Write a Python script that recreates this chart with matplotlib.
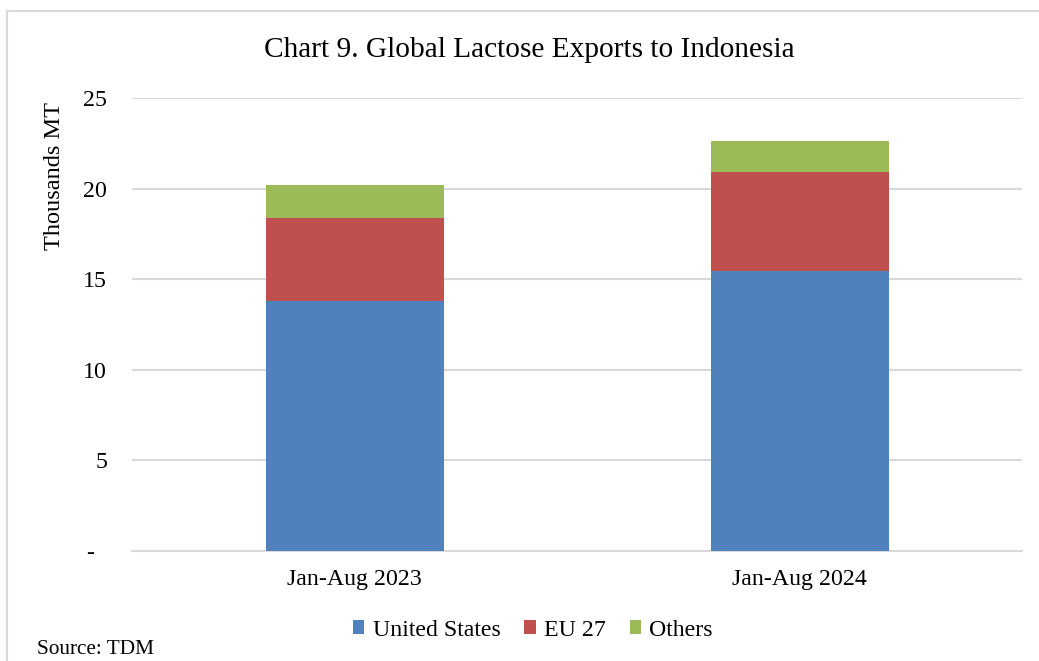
import matplotlib.pyplot as plt
from matplotlib.patches import Rectangle
import numpy as np

# Data (thousands MT)
periods = ["Jan-Aug 2023", "Jan-Aug 2024"]
united_states = [13.8, 15.45]
eu_27 = [4.58, 5.47]
others = [1.82, 1.71]

colors = ["#4F81BD", "#C0504D", "#9BBB59"]
labels = ["United States", "EU 27", "Others"]

plt.rcParams['font.family'] = ['Liberation Serif', 'DejaVu Serif']

fig = plt.figure(figsize=(10.39, 6.61), dpi=100)
ax = fig.add_axes([132/1039, 1 - 551/661, (1022-132)/1039, (551-98)/661])

# chart frame
fig.patches.append(Rectangle((7/1039, -0.05), 1.2, 1 - 11/661 + 0.05,
                             transform=fig.transFigure, fill=False,
                             edgecolor="#d9d9d9", linewidth=1.5))

x = np.arange(len(periods))
width = 0.40
bottom = np.zeros(len(periods))
for vals, c, lab in zip([united_states, eu_27, others], colors, labels):
    ax.bar(x, vals, width, bottom=bottom, color=c, label=lab, zorder=3)
    bottom += np.array(vals)

ax.set_xlim(-0.5, 1.5)
ax.set_ylim(0, 25)
ax.set_yticks([0, 5, 10, 15, 20, 25])
ax.set_yticklabels(["-  ", "5", "10", "15", "20", "25"])
ax.set_xticks(x)
ax.set_xticklabels(periods)
ax.tick_params(axis='both', length=0, labelsize=17.2)
ax.tick_params(axis='y', pad=18)
ax.tick_params(axis='x', pad=13)
ax.grid(axis='y', color="#d9d9d9", linewidth=1.5, zorder=0)
for s in ["top", "right", "left"]:
    ax.spines[s].set_visible(False)
ax.spines["bottom"].set_color("#d9d9d9")
ax.spines["bottom"].set_linewidth(1.5)

fig.text(529/1039, 1 - 50/661, "Chart 9. Global Lactose Exports to Indonesia",
         ha="center", va="center", fontsize=21.2)
fig.text(55/1039, 1 - 176/661, "Thousands MT", rotation=90,
         ha="center", va="center", fontsize=17.5)
fig.text(37/1039, 1 - 650/661, "Source: TDM", ha="left", va="center", fontsize=15.3)

fig.legend(loc="center", bbox_to_anchor=(533/1039, 1 - 630/661), ncol=3,
           frameon=False, fontsize=17.2, handlelength=0.47, handleheight=0.47,
           handletextpad=0.35, columnspacing=1.0)

fig.savefig("out.png", dpi=100)
